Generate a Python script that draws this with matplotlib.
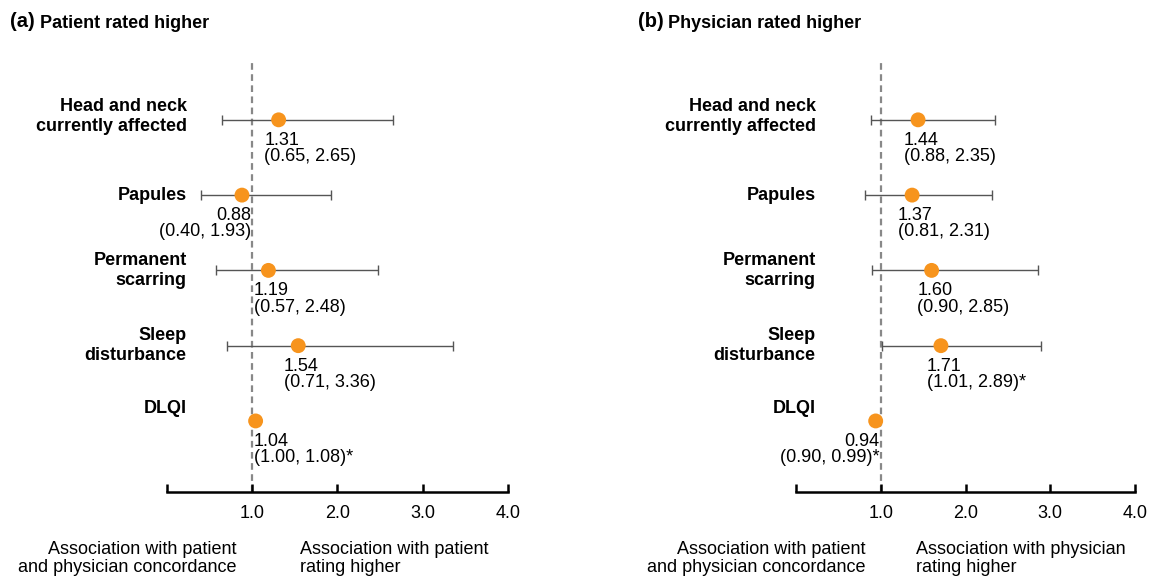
import numpy as np
import matplotlib.pyplot as plt

plt.rcParams['font.family'] = ['Liberation Sans', 'DejaVu Sans']

# ---- datos ----
categorias = ['Head and neck\ncurrently affected', 'Papules', 'Permanent\nscarring',
              'Sleep\ndisturbance', 'DLQI']

or_a = [1.31, 0.88, 1.19, 1.54, 1.04]
lo_a = [0.65, 0.40, 0.57, 0.71, 1.00]
hi_a = [2.65, 1.93, 2.48, 3.36, 1.08]
sig_a = [False, False, False, False, True]

or_b = [1.44, 1.37, 1.60, 1.71, 0.94]
lo_b = [0.88, 0.81, 0.90, 1.01, 0.90]
hi_b = [2.35, 2.31, 2.85, 2.89, 0.99]
sig_b = [False, False, False, True, True]

xticks = [0, 1, 2, 3, 4]
xticklabels = ['', '1.0', '2.0', '3.0', '4.0']

titulos = [('(a)', 'Patient rated higher'), ('(b)', 'Physician rated higher')]
nota_izq = 'Association with patient\nand physician concordance'
nota_der = ['Association with patient\nrating higher', 'Association with physician\nrating higher']

NARANJA = '#F7941D'
GRIS = '#555555'
FS = 13

fig = plt.figure(figsize=(11.49, 5.77), dpi=100)
ejes = [fig.add_axes([0.1453, 0.1473, 0.2968, 0.749]),
        fig.add_axes([0.6928, 0.1473, 0.2950, 0.749])]

paneles = [(or_a, lo_a, hi_a, sig_a), (or_b, lo_b, hi_b, sig_b)]
x_nota_der = [1.56, 1.42]

for k, (ax, (orr, lo, hi, sig)) in enumerate(zip(ejes, paneles)):
    y = np.arange(len(categorias))
    ax.set_xlim(0, 4)
    ax.set_ylim(4.944, -0.797)

    ax.axvline(1.0, color='#888888', linestyle=(0, (3, 2)), linewidth=1.6, zorder=1)

    ax.errorbar(orr, y, xerr=[np.array(orr) - np.array(lo), np.array(hi) - np.array(orr)],
                fmt='none', ecolor=GRIS, elinewidth=1.0, capsize=3.5, capthick=1.0, zorder=2)
    ax.scatter(orr, y, s=115, color=NARANJA, zorder=3, edgecolors='none')

    for i, cat in enumerate(categorias):
        dy = 0.0
        if cat == 'DLQI':
            dy = -0.17
        elif i == 0:
            dy = -0.04
        ax.text(0.23, y[i] + dy, cat, ha='right', va='center', fontsize=FS,
                fontweight='bold', linespacing=1.25, clip_on=False)
        estrella = '*' if sig[i] else ''
        txt = f'{orr[i]:.2f}\n({lo[i]:.2f}, {hi[i]:.2f}){estrella}'
        if orr[i] >= 1:
            ax.text(max(orr[i] - 0.17, 1.02), y[i] + 0.16, txt, ha='left', va='top',
                    fontsize=FS, linespacing=0.93)
        else:
            ax.text(0.985, y[i] + 0.16, txt, ha='right', va='top',
                    fontsize=FS, linespacing=0.93)

    for s in ['top', 'right', 'left']:
        ax.spines[s].set_visible(False)
    ax.spines['bottom'].set_linewidth(1.8)
    ax.set_yticks([])
    ax.set_xticks(xticks)
    ax.set_xticklabels(xticklabels, fontsize=FS)
    ax.tick_params(axis='x', direction='in', length=6, width=1.8, pad=9)

    ax.text(0.82, 5.83, nota_izq, ha='right', va='center', fontsize=FS,
            linespacing=1.05, multialignment='right', clip_on=False)
    ax.text(x_nota_der[k], 5.83, nota_der[k], ha='left', va='center', fontsize=FS,
            linespacing=1.05, clip_on=False)

    x0 = 0.009 if k == 0 else 0.555
    fig.text(x0, 0.962, titulos[k][0], fontsize=14.5, fontweight='bold', va='center')
    fig.text(x0 + 0.026, 0.960, titulos[k][1], fontsize=FS, fontweight='bold', va='center')

fig.savefig('out.png', dpi=100)
